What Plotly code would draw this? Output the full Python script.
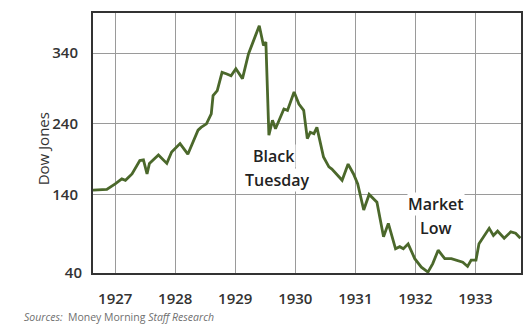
import plotly.graph_objects as go

# Dow Jones values (fractional year, index level)
years = [1926.63, 1926.86, 1927.00, 1927.11, 1927.17, 1927.28, 1927.41, 1927.47, 1927.53, 1927.57,
         1927.72, 1927.86, 1927.94, 1928.08, 1928.21, 1928.38, 1928.43, 1928.52, 1928.60, 1928.63,
         1928.70, 1928.78, 1928.85, 1928.93, 1929.01, 1929.12, 1929.22, 1929.40, 1929.47, 1929.51,
         1929.56, 1929.62, 1929.67, 1929.81, 1929.87, 1929.98, 1930.06, 1930.14, 1930.20, 1930.25,
         1930.31, 1930.36, 1930.47, 1930.56, 1930.61, 1930.72, 1930.78, 1930.88, 1930.97, 1931.04,
         1931.14, 1931.23, 1931.36, 1931.47, 1931.55, 1931.67, 1931.74, 1931.80, 1931.88, 1931.99,
         1932.10, 1932.21, 1932.29, 1932.38, 1932.49, 1932.60, 1932.71, 1932.79, 1932.87, 1932.93,
         1933.01, 1933.06, 1933.23, 1933.30, 1933.37, 1933.48, 1933.59, 1933.67, 1933.75]
dow = [146, 147, 155, 162, 160, 169, 188, 189, 169, 184,
       196, 184, 200, 212, 197, 231, 235, 240, 254, 280,
       287, 313, 311, 308, 318, 304, 339, 379, 351, 356,
       224, 245, 233, 261, 259, 285, 268, 259, 219, 228,
       226, 235, 193, 179, 176, 165, 160, 183, 169, 155,
       118, 140, 129, 80, 99, 63, 66, 63, 70, 49,
       37, 30, 42, 61, 49, 49, 46, 44, 38, 47,
       47, 70, 92, 82, 88, 78, 87, 85, 78]

x_ticks = [1927, 1928, 1929, 1930, 1931, 1932, 1933]
x_tick_text = ["1927", "1928", "1929", "1930", "1931", "1932", "1933"]
y_ticks = [140, 240, 340]
y_tick_text = ["140", "240", "340"]
y_bottom_tick = [40]
y_bottom_text = ["40"]

FONT = "Open Sans"
TXT = "#333333"
TICKFONT = dict(size=15, color=TXT, family=FONT, weight=600)

fig = go.Figure()
fig.add_trace(go.Scatter(x=years, y=dow, mode="lines",
                         line=dict(color="#4b682b", width=2.8),
                         hoverinfo="skip", showlegend=False))
# empty trace so the secondary axis (bottom "40" label) is drawn
fig.add_trace(go.Scatter(x=[], y=[], yaxis="y2", showlegend=False))

fig.update_layout(
    width=530, height=332,
    margin=dict(l=93, r=7, t=13, b=59),
    paper_bgcolor="white", plot_bgcolor="white",
    font=dict(family=FONT, color=TXT, size=15),
    xaxis=dict(range=[1926.63, 1933.76], tickvals=x_ticks, ticktext=x_tick_text,
               showgrid=True, gridcolor="#9a9a9a", gridwidth=1.2,
               showline=True, linecolor="#333333", linewidth=2, mirror=True,
               ticks="", ticklabelstandoff=11, zeroline=False, tickfont=TICKFONT),
    yaxis=dict(range=[28.7, 397], tickvals=y_ticks, ticktext=y_tick_text,
               showgrid=True, gridcolor="#9a9a9a", gridwidth=1.2,
               showline=True, linecolor="#333333", linewidth=2, mirror=True,
               ticks="", ticklabelstandoff=10, zeroline=False, tickfont=TICKFONT),
    yaxis2=dict(overlaying="y", side="left", range=[40, 405], tickvals=y_bottom_tick,
                ticktext=y_bottom_text, showgrid=False, showline=False, zeroline=False,
                ticks="", ticklabelstandoff=10, tickfont=TICKFONT),
)

ann = [
    dict(x=1929.65, y=195, text="Black"),
    dict(x=1929.70, y=160, text="Tuesday"),
    dict(x=1932.34, y=127, text="Market"),
    dict(x=1932.34, y=93, text="Low"),
]
for a in ann:
    fig.add_annotation(**a, xref="x", yref="y", showarrow=False, bgcolor="white", borderpad=0,
                       font=dict(size=16, color="#222222", family=FONT, weight=600))

fig.add_annotation(x=-0.144, y=0.477, xref="paper", yref="paper", text="Dow Jones",
                   textangle=-90, showarrow=False,
                   font=dict(size=15, color=TXT, family=FONT, weight=500))
fig.add_annotation(x=-0.165, y=-0.205, xref="paper", yref="paper", xanchor="left",
                   text="<i>Sources:</i>  Money Morning <i>Staff Research</i>",
                   showarrow=False, font=dict(size=10.5, color="#6f6f6f", family=FONT))

fig.write_html("out.html")
